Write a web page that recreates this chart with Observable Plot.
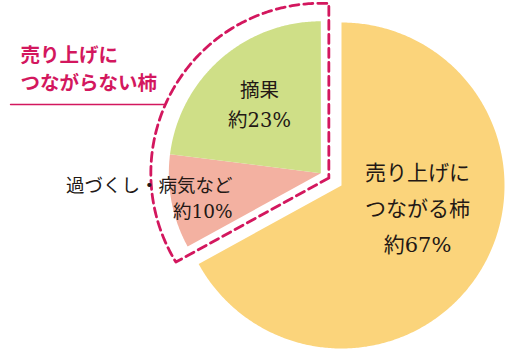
<!DOCTYPE html>
<html><head><meta charset="utf-8">
<script src="https://cdn.jsdelivr.net/npm/d3@7"></script>
<script src="https://cdn.jsdelivr.net/npm/@observablehq/plot@0.6"></script>
<style>
html,body{margin:0;padding:0;background:#fff;}
</style></head><body><div id="chart"></div>
<script>
// ---- data ----
const categories = ["売り上げにつながる柿", "過づくし・病気など", "摘果"];
const values = [67, 10, 23];
const sliceColors = ["#fbd47b", "#f3b1a1", "#cfdf87"];
const sliceLabelLines = [["売り上げに", "つながる柿", "約67%"], ["過づくし・病気など", "約10%"], ["摘果", "約23%"]];
const groupTitleLines = ["売り上げに", "つながらない柿"];
const accent = "#d3175e";

// ---- layout ----
const W = 525, H = 361;
const C1 = [341, 185], R1 = 163;   // main slice
const R2 = 152, explode = 24;       // other slices
const dashGap = 8, R3 = 170;
const labelLayout = [
  {x: 417, y0: 173, dy: 36, size: 21, anchor: "middle"},
  {x: 232, y0: 186, dy: 26, size: 18.5, anchor: "end"},
  {x: 259, y0: 90, dy: 30, size: 19.5, anchor: "middle"}
];
const titleLayout = {x: 20, y0: 55, dy: 28, size: 19.5, ruleY: 104, ruleX1: 10};

const pieData = categories.map((c, i) => ({cat: c, value: values[i], i}));
const arcs = d3.pie().sort(null).value(d => d.value)(pieData);
const pt = (c, r, a) => ({x: c[0] + r * Math.sin(a), y: c[1] - r * Math.cos(a)});

const gStart = arcs[1].startAngle, gEnd = arcs[2].endAngle, gMid = (gStart + gEnd) / 2;
const C2 = [C1[0] + explode * Math.sin(gMid), C1[1] - explode * Math.cos(gMid)];

function sector(c, r, a0, a1, key) {
  const n = Math.max(4, Math.ceil((a1 - a0) / 0.01));
  const out = [{...pt(c, 0, 0), key}];
  for (let k = 0; k <= n; k++) out.push({...pt(c, r, a0 + (a1 - a0) * k / n), key});
  out.push({...pt(c, 0, 0), key});
  return out;
}
const slicePolys = arcs.map((a, i) => i === 0
  ? sector(C1, R1, a.startAngle, a.endAngle, i)
  : sector(C2, R2, a.startAngle, a.endAngle, i));

// dashed outline around the non-sales group
const halfOut = (2 * Math.PI - (gEnd - gStart)) / 2;
const Adist = dashGap / Math.sin(halfOut);
const A = pt(C2, Adist, gMid + Math.PI);
const da = Math.asin(dashGap / R3);
const dash = [A];
{
  const a0 = gStart - da, a1 = gEnd + da, n = 200;
  for (let k = 0; k <= n; k++) dash.push(pt(C2, R3, a0 + (a1 - a0) * k / n));
  dash.push(A);
}
const ruleX2 = C2[0] - Math.sqrt(R3 * R3 - (C2[1] - titleLayout.ruleY) ** 2);

const bodyFont = "'DejaVu Serif','Noto Sans CJK JP',serif";
const titleFont = "'Noto Sans CJK JP',sans-serif";

const labelRows = [];
sliceLabelLines.forEach((lines, i) => lines.forEach((t, j) => labelRows.push({
  text: t, x: labelLayout[i].x, y: labelLayout[i].y0 + j * labelLayout[i].dy,
  size: labelLayout[i].size, anchor: labelLayout[i].anchor
})));
const titleRows = groupTitleLines.map((t, j) => ({text: t, x: titleLayout.x, y: titleLayout.y0 + j * titleLayout.dy}));

const marks = [];
slicePolys.forEach((poly, i) => marks.push(Plot.line(poly, {x: "x", y: "y", fill: sliceColors[i], stroke: "none"})));
marks.push(Plot.line(dash, {x: "x", y: "y", stroke: accent, strokeWidth: 2.8, strokeDasharray: "9,5", strokeLinejoin: "round"}));
marks.push(Plot.line([{x: titleLayout.ruleX1, y: titleLayout.ruleY}, {x: ruleX2, y: titleLayout.ruleY}], {x: "x", y: "y", stroke: accent, strokeWidth: 1.4}));
["middle", "end"].forEach(anchor => {
  [21, 19.5, 18.5].forEach(sz => {
    const rows = labelRows.filter(r => r.anchor === anchor && r.size === sz);
    if (rows.length) marks.push(Plot.text(rows, {x: "x", y: "y", text: "text", fontSize: sz, textAnchor: anchor, fill: "#231815", fontFamily: bodyFont}));
  });
});
marks.push(Plot.text(titleRows, {x: "x", y: "y", text: "text", fontSize: titleLayout.size, textAnchor: "start", fill: accent, fontWeight: "bold", fontFamily: titleFont}));

const chart = Plot.plot({
  width: W, height: H, margin: 0,
  x: {domain: [0, W], range: [0, W], axis: null},
  y: {domain: [0, H], range: [0, H], axis: null},
  style: {background: "#fff", fontFamily: bodyFont},
  marks
});
document.getElementById("chart").appendChild(chart);
</script>
</body></html>
